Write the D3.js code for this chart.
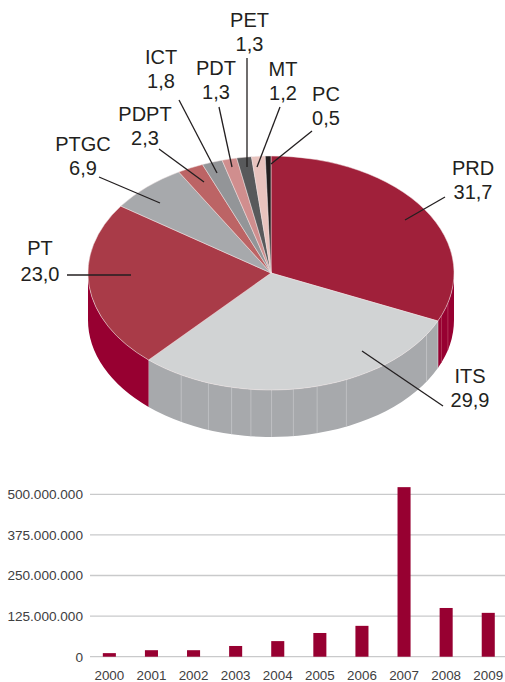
<!DOCTYPE html>
<html><head><meta charset="utf-8">
<script src="https://cdn.jsdelivr.net/npm/d3@7/dist/d3.min.js"></script>
<style>html,body{margin:0;padding:0;background:#fff}svg{display:block}text{font-family:"Liberation Sans",Arial,sans-serif}</style>
</head><body><div id="c"></div>
<script>
const pieNames=["PRD","ITS","PT","PTGC","PDPT","ICT","PDT","PET","MT","PC"];
const pieValues=[31.7,29.9,23.0,6.9,2.3,1.8,1.3,1.3,1.2,0.5];
const pieLabels=["31,7","29,9","23,0","6,9","2,3","1,8","1,3","1,3","1,2","0,5"];
const topColors=["#a0203a","#d1d3d4","#a93b48","#a7a9ac","#bc6465","#939598","#d08e8e","#58595b","#e8c3be","#231f20"];
const sideColors=["#970031","#a7a9ac","#970031"];
const facetPercents=[29.1,30.9,33.8,43.2,45.9,48,49.9,51.7,53.4,55.5,58.1];
const years=["2000","2001","2002","2003","2004","2005","2006","2007","2008","2009"];
const amounts=[11e6,20e6,20e6,33e6,48e6,73e6,95e6,522e6,150e6,135e6];
const yTicks=[0,125e6,250e6,375e6,500e6];
// annotation layout, kept apart from the data: label centre x, first baseline, leader line
const annot=[
 {x:473,y:175,l:[445,197,405,220]},
 {x:470,y:383,l:[443,406,362,351]},
 {x:40,y:255,l:[67,275,131,275],y2:281},
 {x:83,y:151,l:[99,177,160,203]},
 {x:145,y:121,l:[159,149,204,182]},
 {x:161,y:64,l:[179,100,217,173]},
 {x:216,y:75,l:[219,107,232,167]},
 {x:249.5,y:27,l:[247,58,247,167]},
 {x:283,y:76,l:[280,107,257,167]},
 {x:326,y:101,l:[312,131,271,164]}
];
const W=505,H=682;
const svg=d3.select("#c").append("svg").attr("width",W).attr("height",H).attr("viewBox",`0 0 ${W} ${H}`);
const cx=271,cy=273,rx=183,ry=117,depth=47;
const pie=d3.pie().sort(null).value(d=>d)(pieValues);
const total=d3.sum(pieValues);
const pct=d3.scaleLinear().domain([0,total]).range([0,2*Math.PI]);
const px=a=>cx+rx*Math.sin(a), py=a=>cy-ry*Math.cos(a);

// side wall
const b1=pct(pieValues[0]), b2=pct(pieValues[0]+pieValues[1]);
const walls=[[Math.PI/2,b1],[b1,b2],[b2,Math.PI*1.5]];
const wall=svg.append("g");
wall.selectAll("path").data(walls).join("path")
 .attr("fill",(d,i)=>sideColors[i])
 .attr("d",([a,b])=>`M${px(a)},${py(a)}A${rx},${ry} 0 0 1 ${px(b)},${py(b)}L${px(b)},${py(b)+depth}A${rx},${ry} 0 0 0 ${px(a)},${py(a)+depth}Z`);
wall.selectAll("line").data(facetPercents.map(pct).concat([b1])).join("line")
 .attr("x1",px).attr("x2",px).attr("y1",py).attr("y2",a=>py(a)+depth)
 .attr("stroke",a=>a<b1?"#b5415f":"#c4c5c8").attr("stroke-width",0.8);

// top surface
const arc=d3.arc().innerRadius(0).outerRadius(rx);
svg.append("g").attr("transform",`translate(${cx},${cy}) scale(1,${ry/rx})`)
 .selectAll("path").data(pie).join("path")
 .attr("d",arc).attr("fill",(d,i)=>topColors[i])
 .attr("stroke","#f1e4e4").attr("stroke-width",0.5).attr("vector-effect","non-scaling-stroke");

// labels
const g=svg.append("g");
annot.forEach((a,i)=>{
 g.append("line").attr("x1",a.l[0]).attr("y1",a.l[1]).attr("x2",a.l[2]).attr("y2",a.l[3])
  .attr("stroke","#231f20").attr("stroke-width",1.3);
 const t=g.append("g").attr("fill","#231f20").attr("font-size",20).attr("text-anchor","middle");
 t.append("text").attr("x",a.x).attr("y",a.y).text(pieNames[i]);
 t.append("text").attr("x",a.x).attr("y",a.y2||a.y+24).text(pieLabels[i]);
});

// bars
const x=d3.scaleBand().domain(years).range([88.3,509.3]).paddingInner(0.69).paddingOuter(0.345);
const y=d3.scaleLinear().domain([0,500e6]).range([656.7,494.3]);
const fmt=d=>d3.format(",")(d).replace(/,/g,".");
const yAxis=svg.append("g").attr("transform","translate(90,0)")
 .call(d3.axisLeft(y).tickValues(yTicks).tickSize(0).tickPadding(7).tickFormat(fmt));
yAxis.select(".domain").remove();
yAxis.selectAll("text").attr("font-size",13.6).attr("fill","#404041").attr("font-family","Liberation Sans");
svg.append("g").selectAll("line").data(yTicks).join("line")
 .attr("x1",90).attr("x2",505).attr("y1",y).attr("y2",y)
 .attr("stroke","#c9cacb").attr("stroke-width",1.3);
svg.append("g").selectAll("rect").data(amounts).join("rect")
 .attr("x",(d,i)=>x(years[i])).attr("width",x.bandwidth())
 .attr("y",d=>y(d)).attr("height",d=>y(0)-y(d)).attr("fill","#970031");
const xAxis=svg.append("g").attr("transform","translate(0,656.7)")
 .call(d3.axisBottom(x).tickSize(0).tickPadding(14));
xAxis.select(".domain").remove();
xAxis.selectAll("text").attr("font-size",13.4).attr("fill","#404041").attr("font-family","Liberation Sans");
</script></body></html>
